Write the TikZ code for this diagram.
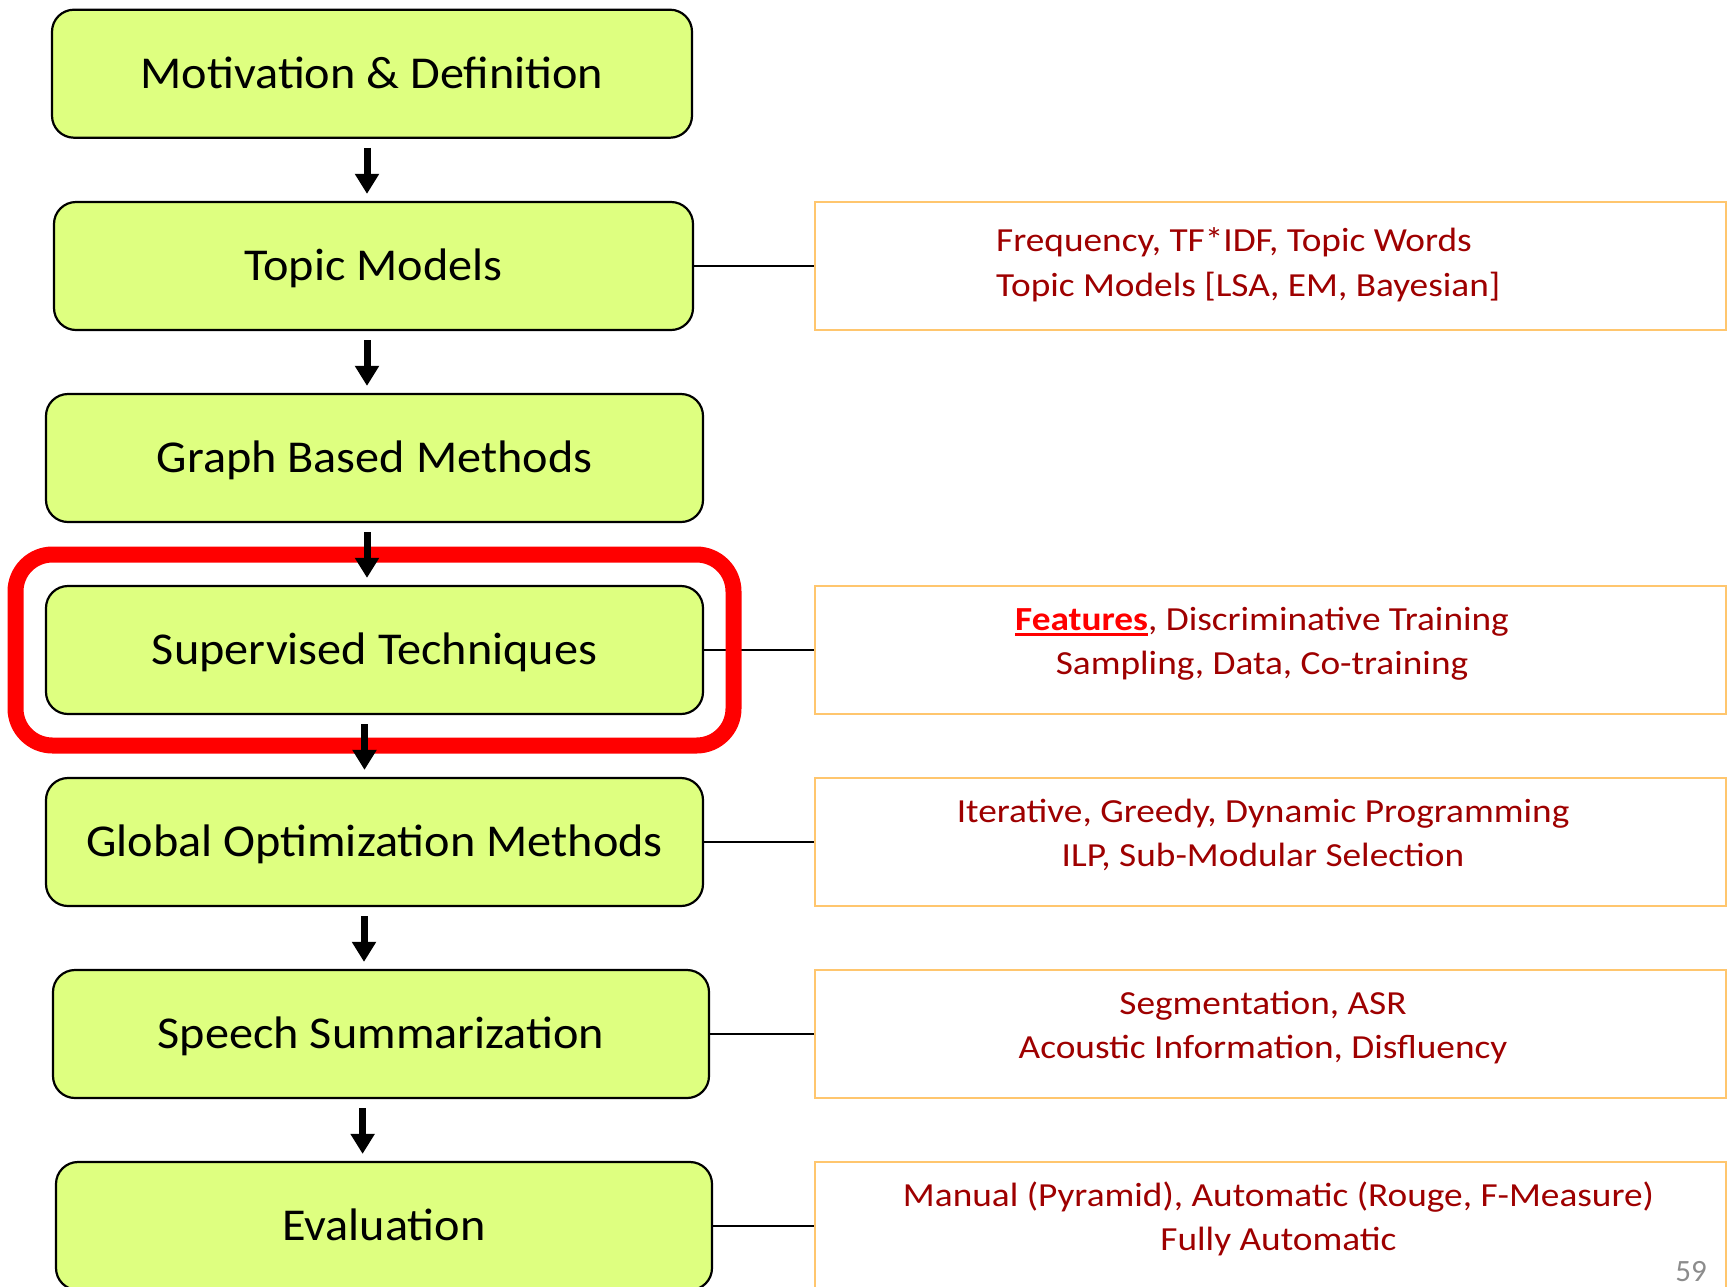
\documentclass[tikz,border=0pt]{standalone}
\usepackage{fontspec}
\setmainfont{Carlito}
\newfontfamily\stagefont[FakeStretch=1.058]{Carlito}
\newfontfamily\detailfont[FakeStretch=1.107]{Carlito}
\usetikzlibrary{arrows.meta}

\definecolor{stagefill}{RGB}{222,255,128}
\definecolor{detailedge}{RGB}{255,198,110}
\definecolor{darkred}{RGB}{158,0,0}
\definecolor{hlred}{RGB}{255,0,0}
\definecolor{pagegray}{RGB}{140,140,140}

% thick underline used for the highlighted keyword
\newcommand{\thickul}[1]{\leavevmode\setbox0=\hbox{#1}\rlap{\copy0}\raisebox{-6pt}{\rule{\wd0}{3pt}}}

\begin{document}
\begin{tikzpicture}[x=1pt,y=-1pt,
  stage/.style={draw=black, line width=2.2pt, fill=stagefill, rounded corners=22pt,
    minimum height=128pt, inner sep=0pt, font=\stagefont\fontsize{45.6}{54}\selectfont,
    text height=29pt, text depth=0pt},
  detail/.style={draw=detailedge, line width=2pt, minimum width=911pt,
    minimum height=128pt, inner sep=0pt},
  detailtext/.style={anchor=base, text=darkred, font=\detailfont\fontsize{33.7}{44}\selectfont, inner sep=0pt},
  link/.style={draw=black, line width=1.8pt},
  flow/.style={line width=7pt, -{Triangle[width=23pt,length=20pt]}, shorten <=9pt, shorten >=7pt},
  highlight/.style={draw=hlred, line width=16pt, rounded corners=37pt,
    minimum width=718pt, minimum height=191pt, inner sep=0pt}]

\useasboundingbox (0,0) rectangle (1731,1286);

% main pipeline stages
\node[stage, minimum width=640pt] (m1) at (372,73.7)  {Motivation \& Definition};
\node[stage, minimum width=639pt] (m2) at (373.5,266) {Topic Models};
\node[stage, minimum width=657pt] (m3) at (374.5,458) {Graph Based Methods};
\node[stage, minimum width=657pt] (m4) at (374.5,650) {Supervised Techniques};
\node[stage, minimum width=657pt] (m5) at (374.5,842) {Global Optimization Methods};
\node[stage, minimum width=656pt] (m6) at (381,1034)  {Speech Summarization};
\node[stage, minimum width=656pt] (m7) at (384,1226)  {Evaluation};

% detail boxes
\node[detail] (r2) at (1270.5,266)  {};
\node[detail] (r4) at (1270.5,650)  {};
\node[detail] (r5) at (1270.5,842)  {};
\node[detail] (r6) at (1270.5,1034) {};
\node[detail] (r7) at (1270.5,1226) {};

% detail texts
\node[detailtext, anchor=base west] (t2a) at (996,251.7) {Frequency, TF*IDF, Topic Words};
\node[detailtext, anchor=base west] (t2b) at (996,296)   {Topic Models [LSA, EM, Bayesian]};
\node[detailtext] (t4a) at (1262,630) {\textcolor{hlred}{\thickul{\textbf{Features}}}, Discriminative Training};
\node[detailtext] (t4b) at (1262,674) {Sampling, Data, Co-training};
\node[detailtext] (t5a) at (1263,822) {Iterative, Greedy, Dynamic Programming};
\node[detailtext] (t5b) at (1263,866) {ILP, Sub-Modular Selection};
\node[detailtext] (t6a) at (1263,1014) {Segmentation, ASR};
\node[detailtext] (t6b) at (1263,1058) {Acoustic Information, Disfluency};
\node[detailtext] (t7a) at (1278.5,1206) {Manual (Pyramid), Automatic (Rouge, F-Measure)};
\node[detailtext] (t7b) at (1278.5,1250) {Fully Automatic};

% stage-to-detail links
\draw[link] (m2.east) -- (r2.west);
\draw[link] (m4.east) -- (r4.west);
\draw[link] (m5.east) -- (r5.west);
\draw[link] (m6.east) -- (r6.west);
\draw[link] (m7.east) -- (r7.west);

% highlight around the current stage
\node[highlight] (hl) at (m4) {};

% flow arrows
\draw[flow] ([xshift=-5pt]m1.south)    -- ([xshift=-5pt]m1.south |- m2.north);
\draw[flow] ([xshift=-6.5pt]m2.south)  -- ([xshift=-6.5pt]m2.south |- m3.north);
\draw[flow] ([xshift=-7.5pt]m3.south)  -- ([xshift=-7.5pt]m3.south |- m4.north);
\draw[flow] ([xshift=-10pt]m4.south)   -- ([xshift=-10pt]m4.south |- m5.north);
\draw[flow] ([xshift=-10.5pt]m5.south) -- ([xshift=-10.5pt]m5.south |- m6.north);
\draw[flow] ([xshift=-18.4pt]m6.south) -- ([xshift=-18.4pt]m6.south |- m7.north);

% page number
\node[anchor=base east, text=pagegray, font=\fontsize{31}{31}\selectfont, inner sep=0pt] (pg) at (1707,1281) {59};
\end{tikzpicture}
\end{document}
